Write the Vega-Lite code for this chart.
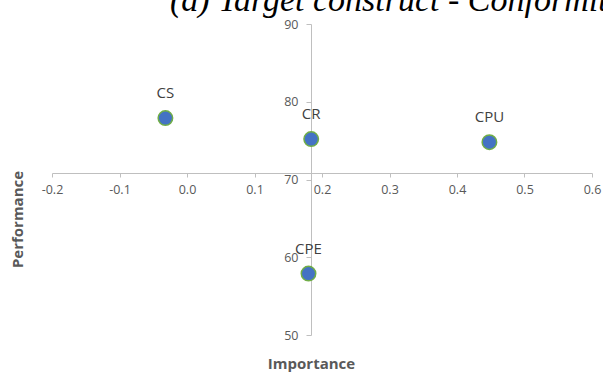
{
  "$schema": "https://vega.github.io/schema/vega-lite/v6.json",
  "width": 540,
  "height": 311,
  "autosize": {"type": "none"},
  "padding": {"left": 52, "top": 24, "right": 11, "bottom": 38},
  "background": "white",
  "config": {"view": {"stroke": null}, "font": "Open Sans"},
  "title": {
    "text": "(a) Target construct - Conformity",
    "font": "Liberation Serif",
    "fontStyle": "italic",
    "fontWeight": "normal",
    "fontSize": 34,
    "color": "black",
    "anchor": "start",
    "frame": "group",
    "dx": 118,
    "dy": 4
  },
  "data": {
    "values": [
      {"construct": "CS", "importance": -0.032, "performance": 77.9},
      {"construct": "CR", "importance": 0.184, "performance": 75.2},
      {"construct": "CPU", "importance": 0.448, "performance": 74.8},
      {"construct": "CPE", "importance": 0.18, "performance": 57.9}
    ]
  },
  "encoding": {
    "x": {
      "field": "importance",
      "type": "quantitative",
      "scale": {"domain": [-0.2, 0.6], "nice": false, "zero": false},
      "axis": {
        "orient": "bottom",
        "offset": -162,
        "values": [-0.2, -0.1, 0, 0.1, 0.2, 0.3, 0.4, 0.5, 0.6],
        "labelExpr": "replace(format(datum.value, '.1f'), '\u2212', '-')",
        "grid": false,
        "domainColor": "#BFBFBF",
        "tickColor": "#BFBFBF",
        "tickSize": 4,
        "labelColor": "#595959",
        "labelFontSize": 12.5,
        "labelPadding": 6,
        "labelFlush": false,
        "title": "Importance",
        "titleFontSize": 15,
        "titleFontWeight": "bold",
        "titleColor": "#595959",
        "titleX": 259,
        "titleY": 183,
        "titleBaseline": "top"
      }
    },
    "y": {
      "field": "performance",
      "type": "quantitative",
      "scale": {"domain": [50, 90], "nice": false, "zero": false},
      "axis": {
        "orient": "left",
        "offset": -259,
        "values": [50, 60, 70, 80, 90],
        "format": "d",
        "grid": false,
        "domainColor": "#BFBFBF",
        "tickColor": "#BFBFBF",
        "tickSize": 5,
        "labelColor": "#595959",
        "labelFontSize": 12.5,
        "labelPadding": 8,
        "labelFlush": false,
        "title": "Performance",
        "titleFontSize": 15,
        "titleFontWeight": "bold",
        "titleColor": "#595959",
        "titleX": -286,
        "titleY": 195,
        "titleBaseline": "bottom"
      }
    }
  },
  "layer": [
    {
      "mark": {"type": "circle", "size": 210, "fill": "#4472C4", "stroke": "#70AD47", "strokeWidth": 1.5, "opacity": 1}
    },
    {
      "mark": {"type": "text", "dy": -25, "fontSize": 15, "color": "#404040", "font": "Open Sans"},
      "encoding": {"text": {"field": "construct"}}
    }
  ]
}
